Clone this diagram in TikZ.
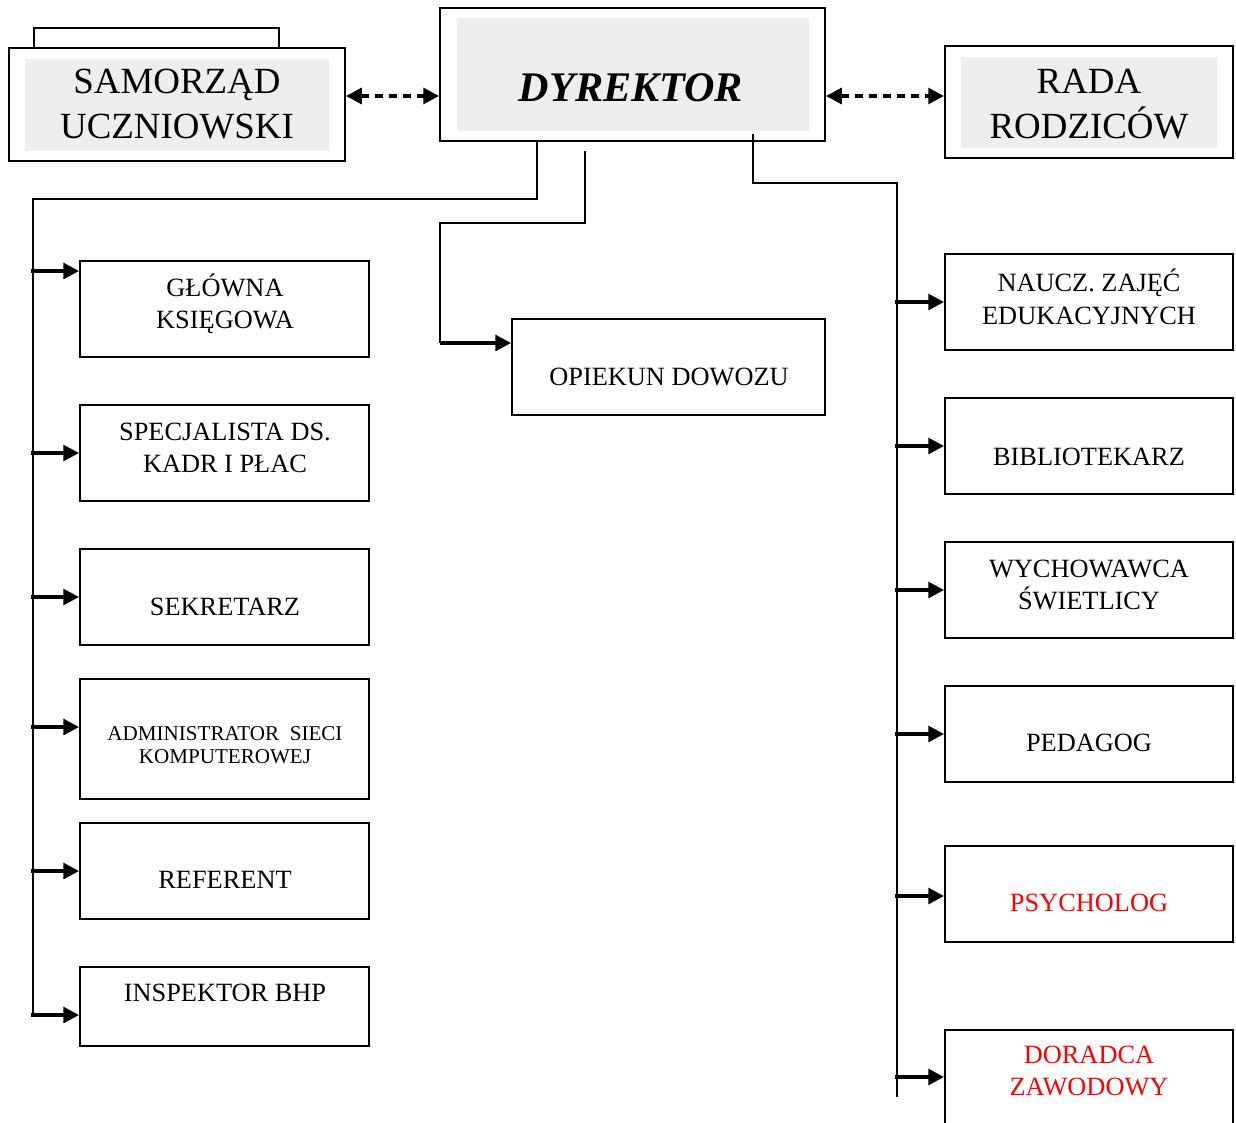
\documentclass[tikz,border=0pt]{standalone}
\usepackage{fontspec}
\setmainfont{Liberation Serif}
\usetikzlibrary{arrows.meta}
\definecolor{boxgray}{RGB}{238,238,238}

\begin{document}
\begin{tikzpicture}[x=0.02cm, y=-0.02cm,
    box/.style={draw, line width=1.1pt, minimum width=5.78cm, minimum height=1.92cm, inner sep=0pt},
    shade/.style={fill=boxgray, inner sep=0pt},
    txt/.style={align=center, font=\fontsize{15}{18.5}\selectfont},
    big/.style={align=center, font=\fontsize{21}{25.5}\selectfont},
    conn/.style={line width=1.1pt},
    arr/.style={line width=2pt, -{Triangle[length=9pt,width=9pt]}},
    dasharr/.style={line width=2pt, dash pattern=on 4.5pt off 3.5pt,
        {Triangle[length=9pt,width=9pt]}-{Triangle[length=9pt,width=9pt]}}]
    \useasboundingbox (0,0) rectangle (1236,1122);

    % top row
    \node [box, minimum width=4.9cm, minimum height=0.8cm] (tab) at (156.5,48) {};
    \node [box, fill=white, minimum width=6.72cm, minimum height=2.26cm] (sam) at (177,104.5) {};
    \node [shade, minimum width=6.08cm, minimum height=1.84cm] (samIn) at (177,105) {};
    \node [big] (samT) at (177,104) {SAMORZĄD\\UCZNIOWSKI};

    \node [box, minimum width=7.7cm, minimum height=2.66cm] (dyr) at (632.5,74.5) {};
    \node [shade, minimum width=7.04cm, minimum height=2.26cm] (dyrIn) at (633,74.5) {};
    \node [font=\fontsize{24}{28}\selectfont\bfseries\itshape] (dyrT) at (631,88) {DYREKTOR};

    \node [box, minimum width=5.76cm, minimum height=2.24cm] (rada) at (1089,102) {};
    \node [shade, minimum width=5.12cm, minimum height=1.82cm] (radaIn) at (1089,102.5) {};
    \node [big] (radaT) at (1089,104) {RADA\\RODZICÓW};

    \draw [dasharr] ([yshift=0.17cm]sam.east) -- ([yshift=-0.43cm]dyr.west);
    \draw [dasharr] ([yshift=-0.43cm]dyr.east) -- ([yshift=0.12cm]rada.west);

    % left column
    \node [box] (ksieg) at (224.5,309) {};
    \node [box] (kadry) at (224.5,453) {};
    \node [box] (sekr) at (224.5,597) {};
    \node [box, minimum height=2.4cm] (admin) at (224.5,739) {};
    \node [box] (ref) at (224.5,871) {};
    \node [box, minimum height=1.58cm] (bhp) at (224.5,1006.5) {};

    \node [txt] (ksiegT) at (225,304) {GŁÓWNA\\KSIĘGOWA};
    \node [txt] (kadryT) at (225,448) {SPECJALISTA DS.\\KADR I PŁAC};
    \node [txt] (sekrT) at (225,607) {SEKRETARZ};
    \node [align=center, font=\fontsize{12}{13}\selectfont] (adminT) at (225,745) {ADMINISTRATOR\ \ SIECI\\KOMPUTEROWEJ};
    \node [txt] (refT) at (225,880) {REFERENT};
    \node [txt] (bhpT) at (225,993) {INSPEKTOR BHP};

    \coordinate (dL) at (537,141);
    \draw [conn] (dL) -- (537,199) -- (33,199) -- (33,1015);
    \foreach \n/\y in {ksieg/271, kadry/453, sekr/597, admin/727, ref/871, bhp/1015}
    {
        \coordinate (L\n) at (31,\y);
        \draw [arr] (L\n) -- (\n.west |- L\n);
    }

    % middle
    \node [box, minimum width=6.26cm] (opiek) at (668.5,367) {};
    \node [txt] (opiekT) at (669,377) {OPIEKUN DOWOZU};
    \coordinate (dM) at (585,151);
    \coordinate (M1) at (440,343);
    \draw [conn] (dM) -- (585,223) -- (440,223) -- (M1);
    \draw [arr] (M1) -- (opiek.west |- M1);

    % right column
    \node [box, minimum width=5.76cm] (naucz) at (1089,302) {};
    \node [box, minimum width=5.76cm] (bibl) at (1089,446) {};
    \node [box, minimum width=5.76cm] (wych) at (1089,590) {};
    \node [box, minimum width=5.76cm] (ped) at (1089,734) {};
    \node [box, minimum width=5.76cm] (psych) at (1089,894) {};
    \node [box, minimum width=5.76cm] (dor) at (1089,1078) {};

    \node [txt] (nauczT) at (1089,297) {NAUCZ. ZAJĘĆ\\EDUKACYJNYCH};
    \node [txt] (biblT) at (1089,457) {BIBLIOTEKARZ};
    \node [txt] (wychT) at (1089,585) {WYCHOWAWCA\\ŚWIETLICY};
    \node [txt] (pedT) at (1089,743) {PEDAGOG};
    \node [txt, red] (psychT) at (1089,903) {PSYCHOLOG};
    \node [txt, red] (dorT) at (1089,1071) {DORADCA\\ZAWODOWY};

    \coordinate (dR) at (753,134);
    \draw [conn] (dR) -- (753,183) -- (897,183) -- (897,1097);
    \foreach \n/\y in {naucz/302, bibl/446, wych/590, ped/734, psych/896, dor/1077}
    {
        \coordinate (R\n) at (895,\y);
        \draw [arr] (R\n) -- (\n.west |- R\n);
    }
\end{tikzpicture}
\end{document}
